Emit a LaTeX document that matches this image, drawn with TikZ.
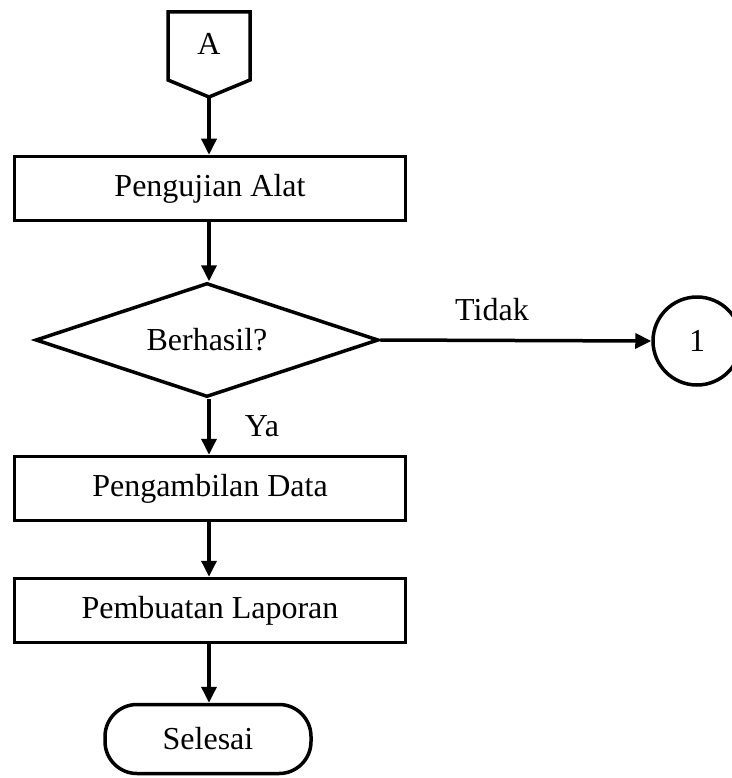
\documentclass[tikz,border=0pt]{standalone}
\usepackage{fontspec}
\setmainfont{Liberation Serif}
\usetikzlibrary{arrows.meta,shapes.geometric}
\begin{document}
\begin{tikzpicture}[x=1pt,y=-1pt,
  every node/.style={font=\fontsize{32}{38}\selectfont},
  ln/.style={line width=3.5pt},
  procbox/.style={draw,ln,rectangle,minimum width=391pt,minimum height=64pt,inner sep=0pt},
  decbox/.style={draw,ln,diamond,aspect=3,minimum width=343pt,minimum height=114pt,inner sep=0pt},
  termbox/.style={draw,ln,rectangle,rounded corners=32pt,minimum width=206pt,minimum height=69pt,inner sep=0pt},
  conbox/.style={draw,ln,circle,minimum size=88pt,inner sep=0pt},
  flow/.style={ln,-{Triangle[length=16pt,width=15pt]}},
  lbl/.style={inner sep=0pt}]
\useasboundingbox (0,0) rectangle (731,778);
% off-page connector A
\node[lbl] (A) at (209,44) {A};
\draw[ln,line join=miter] (168,12) -- (250,12) -- (250,80) -- (209,97) -- (168,80) -- cycle;
\coordinate (Abot) at (209,97);
\node[procbox] (p1) at (210,188.5) {Pengujian Alat};
\node[decbox] (d1) at (207,340) {Berhasil?};
\node[conbox] (c1) at (697,341) {1};
\node[procbox] (p2) at (210,488.5) {Pengambilan Data};
\node[procbox] (p3) at (210,610.5) {Pembuatan Laporan};
\node[termbox] (t1) at (208,739) {Selesai};
\node[lbl] (tidak) at (492,310) {Tidak};
\node[lbl] (ya) at (262,426) {Ya};
\draw[flow] (Abot) -- (Abot |- p1.north);
\draw[flow] (p1.south -| Abot) -- (Abot |- d1.north);
\draw[flow] (d1.east) -- (c1.west);
\draw[flow] (d1.south -| Abot) -- (Abot |- p2.north);
\draw[flow] (p2.south -| Abot) -- (Abot |- p3.north);
\draw[flow] (p3.south -| Abot) -- (Abot |- t1.north);
\end{tikzpicture}
\end{document}
